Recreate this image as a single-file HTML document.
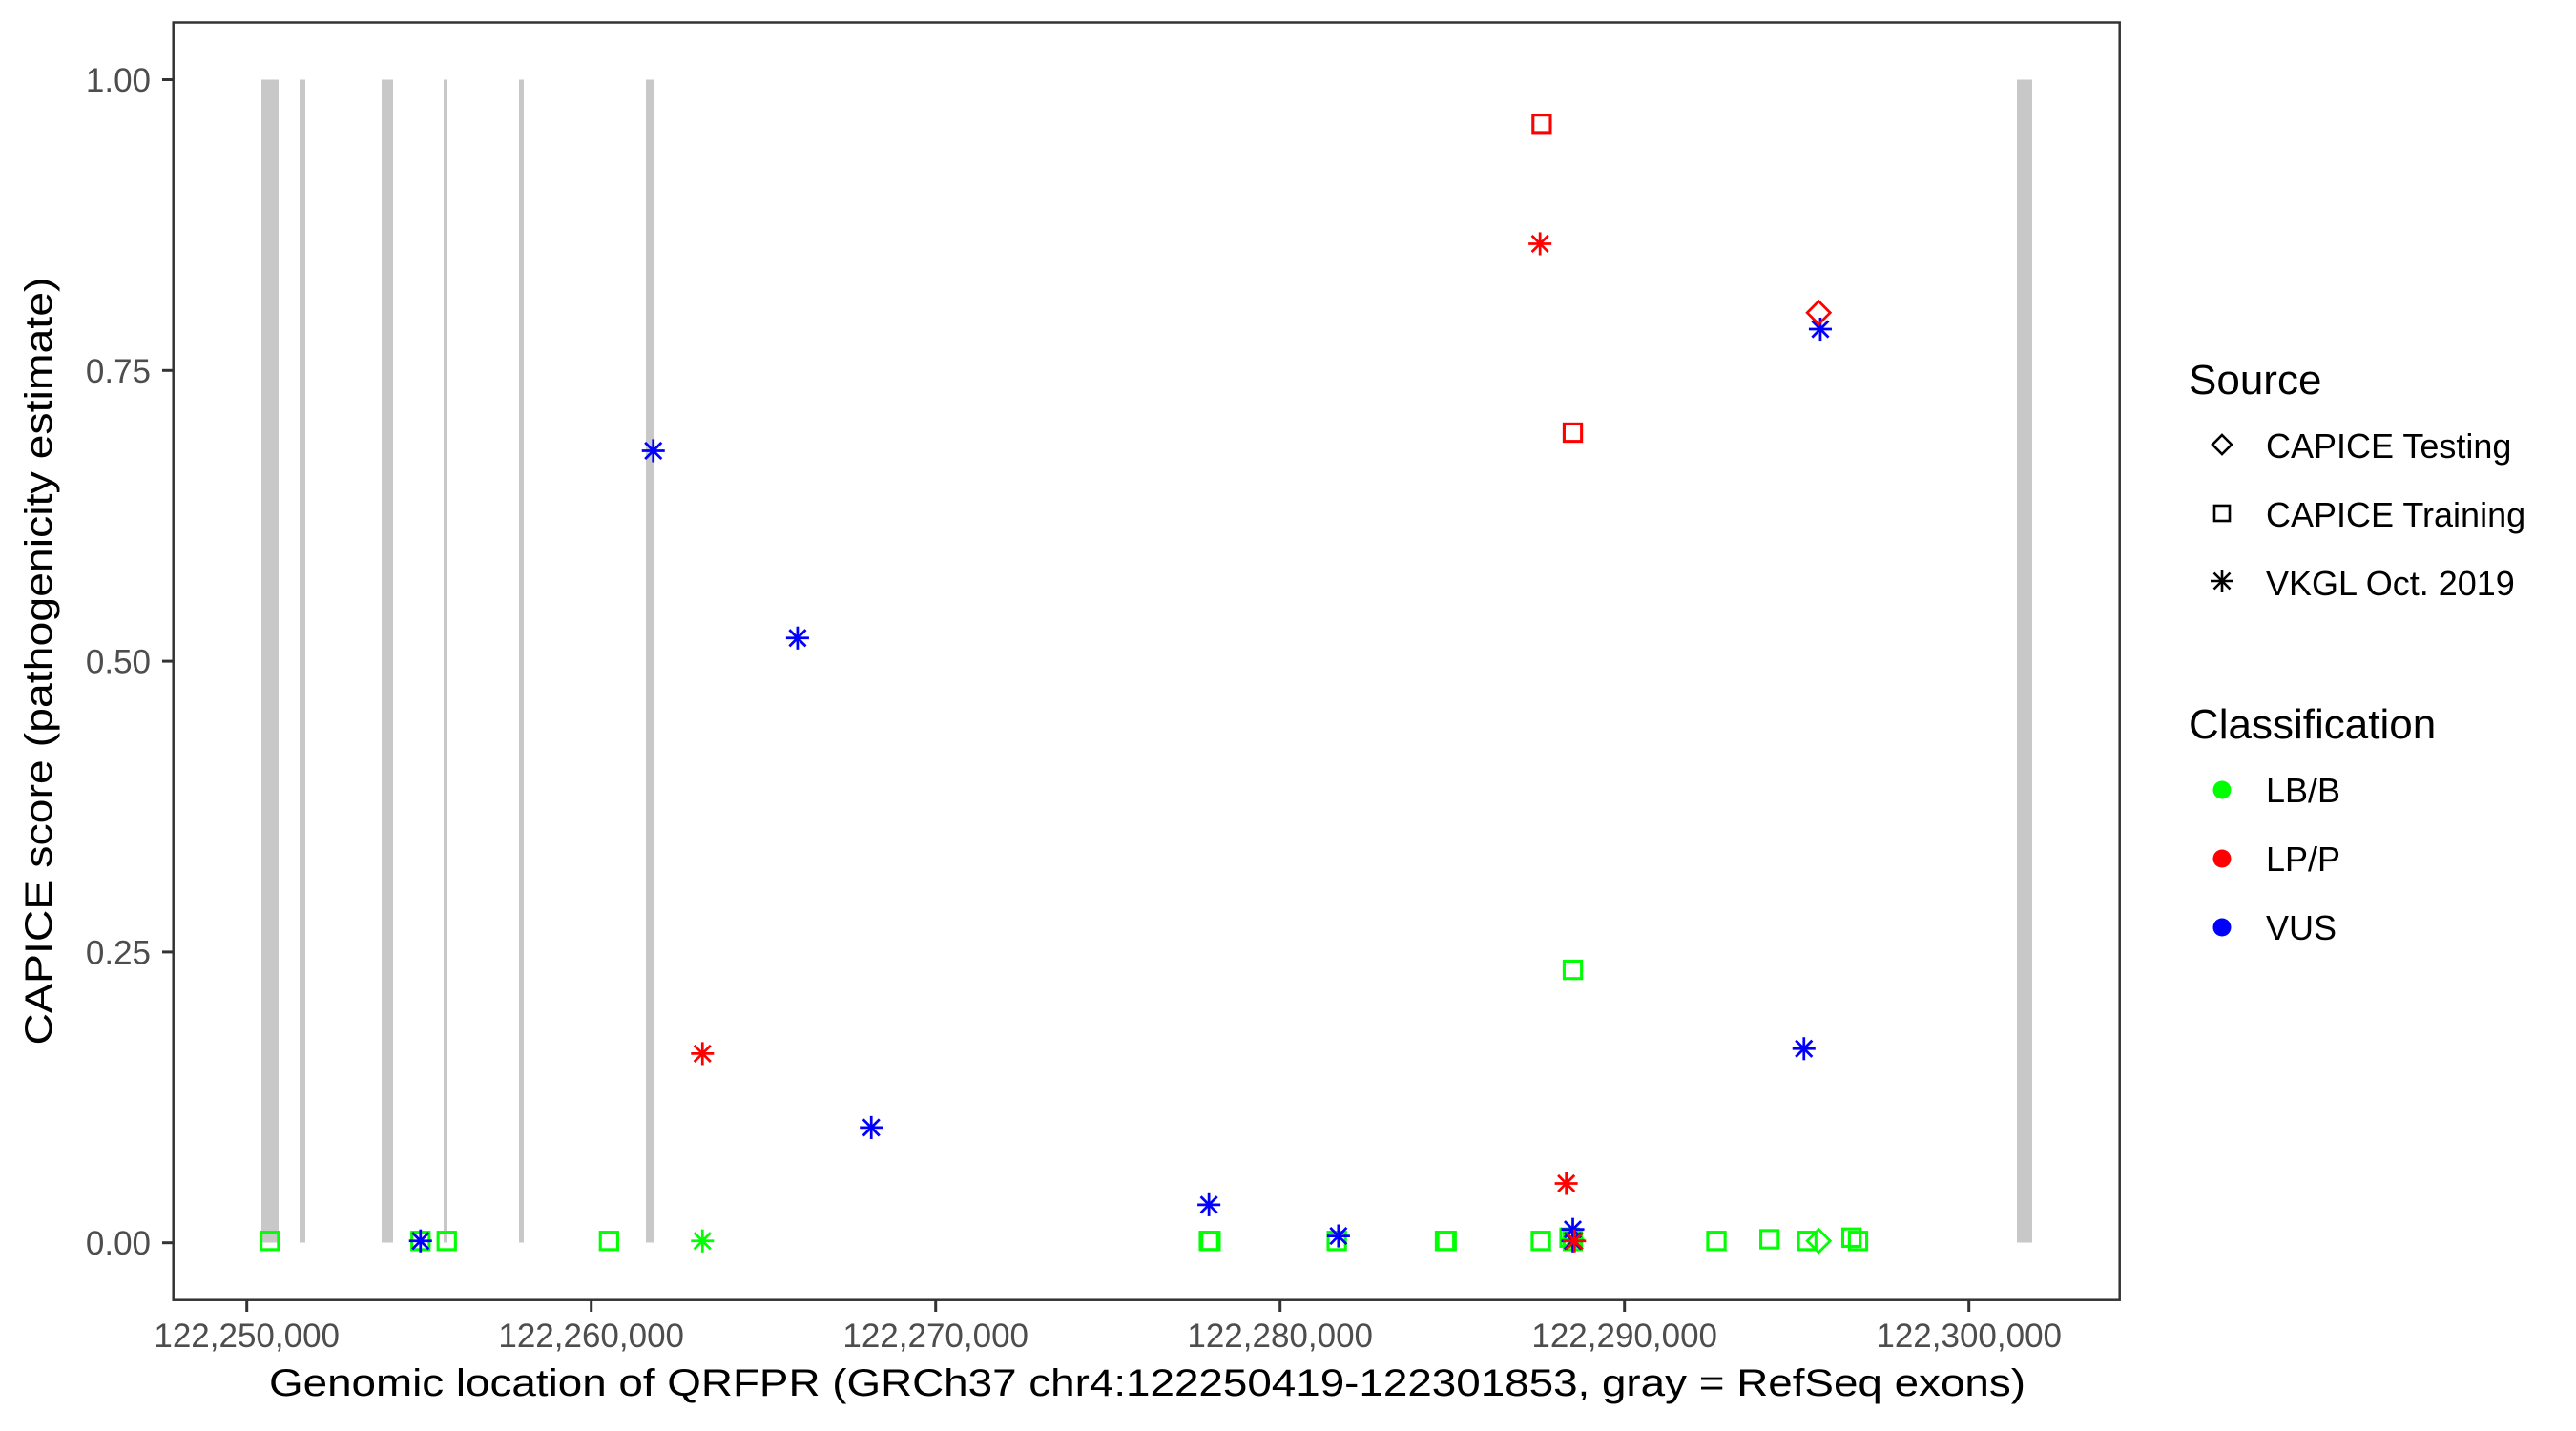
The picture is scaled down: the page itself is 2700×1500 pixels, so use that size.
<!DOCTYPE html>
<html><head><meta charset="utf-8"><style>html,body{margin:0;padding:0;background:#fff}svg{display:block}</style></head>
<body>
<svg width="2700" height="1500" viewBox="0 0 2700 1500" xmlns="http://www.w3.org/2000/svg" font-family="Liberation Sans, Arial, sans-serif">
<defs>
<g id="sq"><rect x="-5.3" y="-5.3" width="10.6" height="10.6" fill="none" stroke-width="1.8"/></g>
<g id="ast" stroke-width="1.6" fill="none"><line x1="-7" y1="0" x2="7" y2="0"/><line x1="0" y1="-7" x2="0" y2="7"/><line x1="-5" y1="-5" x2="5" y2="5"/><line x1="-5" y1="5" x2="5" y2="-5"/></g>
<g id="dia"><polygon points="0,-7 7,0 0,7 -7,0" fill="none" stroke-width="1.6"/></g>
</defs>
<rect x="0" y="0" width="2700" height="1500" fill="#fff"/>
<g fill="#c8c8c8">
<rect x="274" y="83.5" width="18" height="1219"/>
<rect x="314" y="83.5" width="6" height="1219"/>
<rect x="400" y="83.5" width="12" height="1219"/>
<rect x="465" y="83.5" width="4" height="1219"/>
<rect x="544" y="83.5" width="5" height="1219"/>
<rect x="677" y="83.5" width="8" height="1219"/>
<rect x="2114" y="83.5" width="16" height="1219"/>
</g>
<g transform="matrix(1.718,0,0,1.722,4.4,-1.1)">
<g stroke="#00ff00">
<use href="#sq" x="162" y="756"/><use href="#sq" x="254" y="756"/><use href="#sq" x="270" y="756"/><use href="#sq" x="369" y="756"/>
<use href="#sq" x="735" y="756"/><use href="#sq" x="736" y="756"/><use href="#sq" x="813" y="756"/><use href="#sq" x="879" y="756"/><use href="#sq" x="880" y="756"/>
<use href="#sq" x="937.5" y="756"/><use href="#sq" x="957" y="756"/><use href="#sq" x="955" y="754"/><use href="#sq" x="1044.6" y="756"/><use href="#sq" x="1077" y="755"/>
<use href="#sq" x="1100" y="756"/><use href="#sq" x="1127" y="754"/><use href="#sq" x="1131" y="756"/>
<use href="#sq" x="957" y="591"/>
<use href="#ast" x="426" y="756"/><use href="#ast" x="957" y="755"/>
<use href="#dia" x="1107" y="756"/>
</g>
<g stroke="#0000ff">
<use href="#ast" x="396" y="275"/><use href="#ast" x="484" y="389"/><use href="#ast" x="529" y="687"/><use href="#ast" x="735" y="734"/>
<use href="#ast" x="814" y="753"/><use href="#ast" x="254" y="756"/><use href="#ast" x="957" y="749"/><use href="#ast" x="957" y="756"/>
<use href="#ast" x="1108" y="201"/><use href="#ast" x="1098" y="639"/>
</g>
<g stroke="#ff0000">
<use href="#sq" x="938" y="76"/><use href="#sq" x="957" y="264"/>
<use href="#ast" x="937" y="149"/><use href="#ast" x="426" y="642"/><use href="#ast" x="953" y="721"/><use href="#ast" x="958" y="756"/>
<use href="#dia" x="1107" y="191"/>
</g>
</g>
<rect x="181.7" y="23.5" width="2040" height="1339.2" fill="none" stroke="#333" stroke-width="2.5"/>
<g stroke="#333" stroke-width="3">
<line x1="170" y1="83.5" x2="181" y2="83.5"/><line x1="170" y1="388.3" x2="181" y2="388.3"/><line x1="170" y1="693.1" x2="181" y2="693.1"/><line x1="170" y1="997.9" x2="181" y2="997.9"/><line x1="170" y1="1302.7" x2="181" y2="1302.7"/>
</g>
<g fill="#4d4d4d" font-size="35" text-anchor="end">
<text x="158" y="96">1.00</text><text x="158" y="401">0.75</text><text x="158" y="705.6">0.50</text><text x="158" y="1010.4">0.25</text><text x="158" y="1315.2">0.00</text>
</g>
<g stroke="#333" stroke-width="3">
<line x1="258.7" y1="1363" x2="258.7" y2="1375"/><line x1="619.7" y1="1363" x2="619.7" y2="1375"/><line x1="980.7" y1="1363" x2="980.7" y2="1375"/><line x1="1341.7" y1="1363" x2="1341.7" y2="1375"/><line x1="1702.7" y1="1363" x2="1702.7" y2="1375"/><line x1="2063.7" y1="1363" x2="2063.7" y2="1375"/>
</g>
<g fill="#4d4d4d" font-size="35" text-anchor="middle">
<text x="258.7" y="1412">122,250,000</text><text x="619.7" y="1412">122,260,000</text><text x="980.7" y="1412">122,270,000</text><text x="1341.7" y="1412">122,280,000</text><text x="1702.7" y="1412">122,290,000</text><text x="2063.7" y="1412">122,300,000</text>
</g>
<text x="282" y="1463" font-size="40" textLength="1841" lengthAdjust="spacingAndGlyphs">Genomic location of QRFPR (GRCh37 chr4:122250419-122301853, gray = RefSeq exons)</text>
<text transform="translate(54,693) rotate(-90)" x="0" y="0" font-size="40" text-anchor="middle" textLength="805" lengthAdjust="spacingAndGlyphs">CAPICE score (pathogenicity estimate)</text>
<text x="2294" y="413" font-size="44">Source</text>
<polygon points="2329,456 2339,466 2329,476 2319,466" fill="none" stroke="#000" stroke-width="2.6"/>
<rect x="2321" y="530" width="16" height="16" fill="none" stroke="#000" stroke-width="2.6"/>
<g stroke="#000" stroke-width="2.6"><line x1="2317" y1="609" x2="2341" y2="609"/><line x1="2329" y1="597" x2="2329" y2="621"/><line x1="2320.5" y1="600.5" x2="2337.5" y2="617.5"/><line x1="2320.5" y1="617.5" x2="2337.5" y2="600.5"/></g>
<g font-size="36"><text x="2375" y="480">CAPICE Testing</text><text x="2375" y="552">CAPICE Training</text><text x="2375" y="624">VKGL Oct. 2019</text></g>
<text x="2294" y="774" font-size="44">Classification</text>
<circle cx="2329" cy="828" r="9.5" fill="#00ff00"/><circle cx="2329" cy="900" r="9.5" fill="#ff0000"/><circle cx="2329" cy="972" r="9.5" fill="#0000ff"/>
<g font-size="36"><text x="2375" y="841">LB/B</text><text x="2375" y="913">LP/P</text><text x="2375" y="985">VUS</text></g>
</svg>
</body></html>
